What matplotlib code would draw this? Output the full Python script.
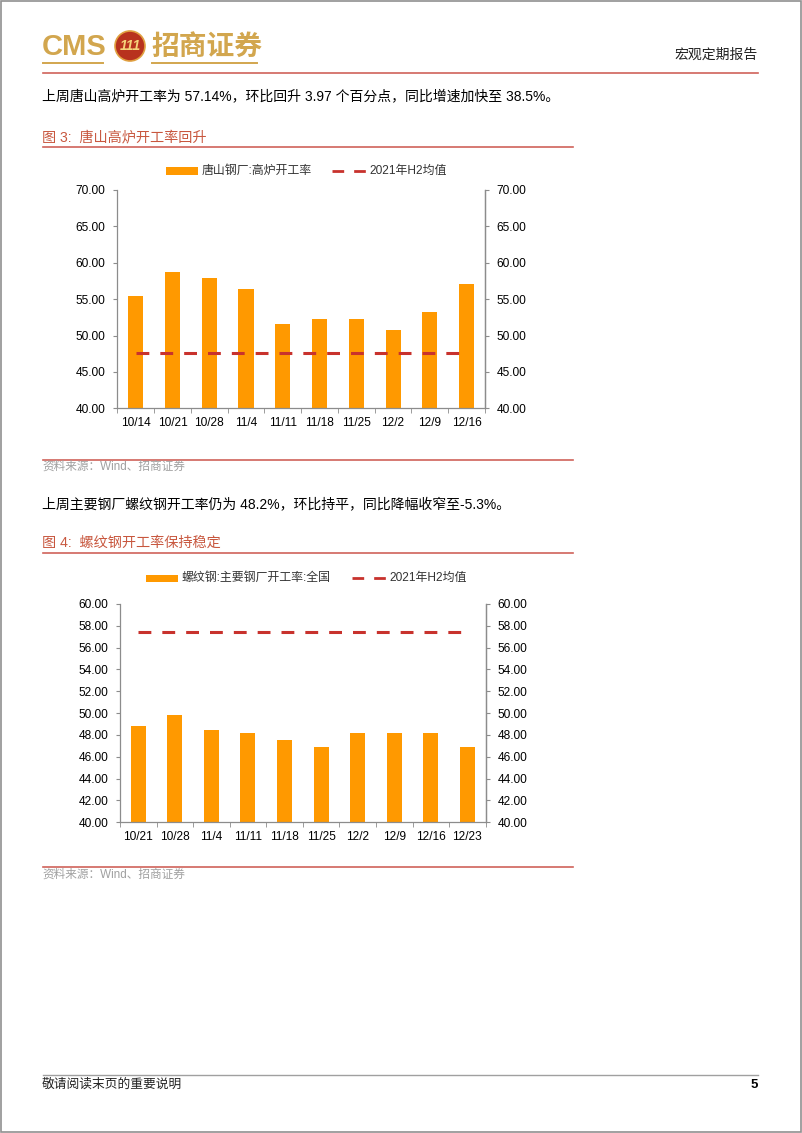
import matplotlib
matplotlib.use("Agg")
import matplotlib.pyplot as plt
from matplotlib.patches import Rectangle, Ellipse
from matplotlib.lines import Line2D
import numpy as np

plt.rcParams['font.family'] = ['Liberation Sans', 'Noto Sans CJK SC', 'DejaVu Sans']

# ---------------- data ----------------
c1_dates = ["10/14", "10/21", "10/28", "11/4", "11/11", "11/18", "11/25", "12/2", "12/9", "12/16"]
c1_values = [55.5, 58.7, 57.9, 56.35, 51.55, 52.3, 52.3, 50.8, 53.17, 57.14]
c1_avg = 47.55
c1_bar_label = "唐山钢厂:高炉开工率"
c1_line_label = "2021年H2均值"

c2_dates = ["10/21", "10/28", "11/4", "11/11", "11/18", "11/25", "12/2", "12/9", "12/16", "12/23"]
c2_values = [48.8, 49.8, 48.5, 48.2, 47.55, 46.9, 48.2, 48.2, 48.2, 46.9]
c2_avg = 57.45
c2_bar_label = "螺纹钢:主要钢厂开工率:全国"
c2_line_label = "2021年H2均值"

W, H = 802, 1133
fig = plt.figure(figsize=(W / 100, H / 100), dpi=100)

def fx(x):
    return x / W

def fy(y):
    return 1 - y / H

BAR = "#FF9900"
DASH = "#C8322D"
RULE = "#D0625A"
TITLE = "#C8573E"
GOLD = "#D2A64E"
AX = "#8C8C8C"

def hline(x0, x1, y, color, lw=1.0):
    fig.add_artist(Line2D([fx(x0), fx(x1)], [fy(y), fy(y)], color=color, lw=lw,
                          transform=fig.transFigure))

def text(x, y, s, size, color="black", ha="left", va="center", **kw):
    fig.text(fx(x), fy(y), s, fontsize=size, color=color, ha=ha, va=va, **kw)

# page border
fig.add_artist(Rectangle((0.0008, 0.0008), 0.9984, 0.9984, fill=False, ec="#909090", lw=1.2,
                         transform=fig.transFigure))

# ---------------- header ----------------
text(42, 47, "CMS", 21, GOLD, fontweight="bold", family=["Liberation Sans"])
fig.add_artist(Ellipse((fx(130), fy(46)), 30 / W, 30 / H, transform=fig.transFigure,
                       fc="#B8321E", ec="#E0A040", lw=1.2))
text(130, 46.5, "111", 10, "#F5D27A", ha="center", fontweight="bold", style="italic")
text(151, 47, "招商证券", 20, GOLD, fontweight="bold", family=["Noto Sans CJK SC"])
hline(43, 103, 63, GOLD, 1.4)
hline(152, 257, 63, GOLD, 1.4)
text(758, 55, "宏观定期报告", 10, "#222222", ha="right")
hline(43, 758, 72.5, RULE, 1.2)

# ---------------- body text 1 ----------------
text(42, 97, "上周唐山高炉开工率为 57.14%，环比回升 3.97 个百分点，同比增速加快至 38.5%。", 10, "black")
text(42, 137, "图 3:  唐山高炉开工率回升", 10.2, TITLE, fontweight="medium")
hline(43, 573, 146.5, RULE, 1.2)


def make_chart(left, right, top, bottom, dates, values, avg, ymin, ymax, step,
               bar_label, line_label, leg_y, patch_x, dash_x):
    ax = fig.add_axes([fx(left), fy(bottom), fx(right) - fx(left), fy(top) - fy(bottom)])
    x = np.arange(len(dates))
    ax.bar(x, values, width=0.41, color=BAR, zorder=2)
    ax.plot([x[0], x[-1]], [avg, avg], color=DASH, lw=2.2, dashes=(4.2, 3.6), zorder=3)
    ax.set_xlim(-0.5, len(dates) - 0.5)
    ax.set_ylim(ymin, ymax)
    ticks = np.arange(ymin, ymax + step / 2, step)
    ax.set_yticks(ticks)
    ax.set_yticklabels([f"{t:.2f}" for t in ticks])
    ax.set_xticks(x)
    ax.set_xticklabels(dates)
    ax.set_xticks(np.arange(-0.5, len(dates), 1.0), minor=True)
    ax.tick_params(axis="x", which="major", length=0, pad=6, labelsize=8.6)
    ax.tick_params(axis="x", which="minor", length=3.5, color=AX, direction="out")
    ax.tick_params(axis="y", length=3, color=AX, labelsize=8.6, pad=5.5)
    ax.spines["top"].set_visible(False)
    for s in ["left", "right", "bottom"]:
        ax.spines[s].set_color(AX)
        ax.spines[s].set_linewidth(0.9)
    ax.patch.set_alpha(0)
    ax2 = ax.twinx()
    ax2.set_ylim(ymin, ymax)
    ax2.set_yticks(ticks)
    ax2.set_yticklabels([f"{t:.2f}" for t in ticks])
    ax2.tick_params(axis="y", length=3, color=AX, labelsize=8.6, pad=5.5)
    for s in ["top", "left", "bottom"]:
        ax2.spines[s].set_visible(False)
    ax2.spines["right"].set_color(AX)
    ax2.spines["right"].set_linewidth(0.9)
    # legend
    fig.add_artist(Rectangle((fx(patch_x), fy(leg_y + 3.5)), fx(patch_x + 32) - fx(patch_x),
                             7 / H, transform=fig.transFigure, fc=BAR, ec="none"))
    text(patch_x + 36, leg_y, bar_label, 8.6, "#333333")
    fig.add_artist(Line2D([fx(dash_x), fx(dash_x + 34)], [fy(leg_y), fy(leg_y)],
                          color=DASH, lw=2.0, dashes=(4.2, 3.6), transform=fig.transFigure))
    text(dash_x + 37, leg_y, line_label, 8.6, "#333333")
    return ax


make_chart(117.3, 485, 190, 408.3, c1_dates, c1_values, c1_avg, 40, 70, 5,
           c1_bar_label, c1_line_label, 171, 166, 332)

hline(43, 573, 459.5, RULE, 1.2)
text(42, 467, "资料来源：Wind、招商证券", 8.4, "#A0A0A0")

# ---------------- body text 2 ----------------
text(42, 504, "上周主要钢厂螺纹钢开工率仍为 48.2%，环比持平，同比降幅收窄至-5.3%。", 10, "black")
text(42, 543, "图 4:  螺纹钢开工率保持稳定", 10.2, TITLE, fontweight="medium")
hline(43, 573, 553, RULE, 1.2)

make_chart(120, 485.7, 604, 822.3, c2_dates, c2_values, c2_avg, 40, 60, 2,
           c2_bar_label, c2_line_label, 578.3, 146, 352)

hline(43, 573, 866.7, RULE, 1.2)
text(42, 875, "资料来源：Wind、招商证券", 8.4, "#A0A0A0")

# ---------------- footer ----------------
hline(43, 758, 1075, "#A0A0A0", 1.0)
text(42, 1085, "敬请阅读末页的重要说明", 9.2, "#222222")
text(758, 1085, "5", 9.5, "black", ha="right", fontweight="bold")

fig.savefig("out.png", dpi=100)
